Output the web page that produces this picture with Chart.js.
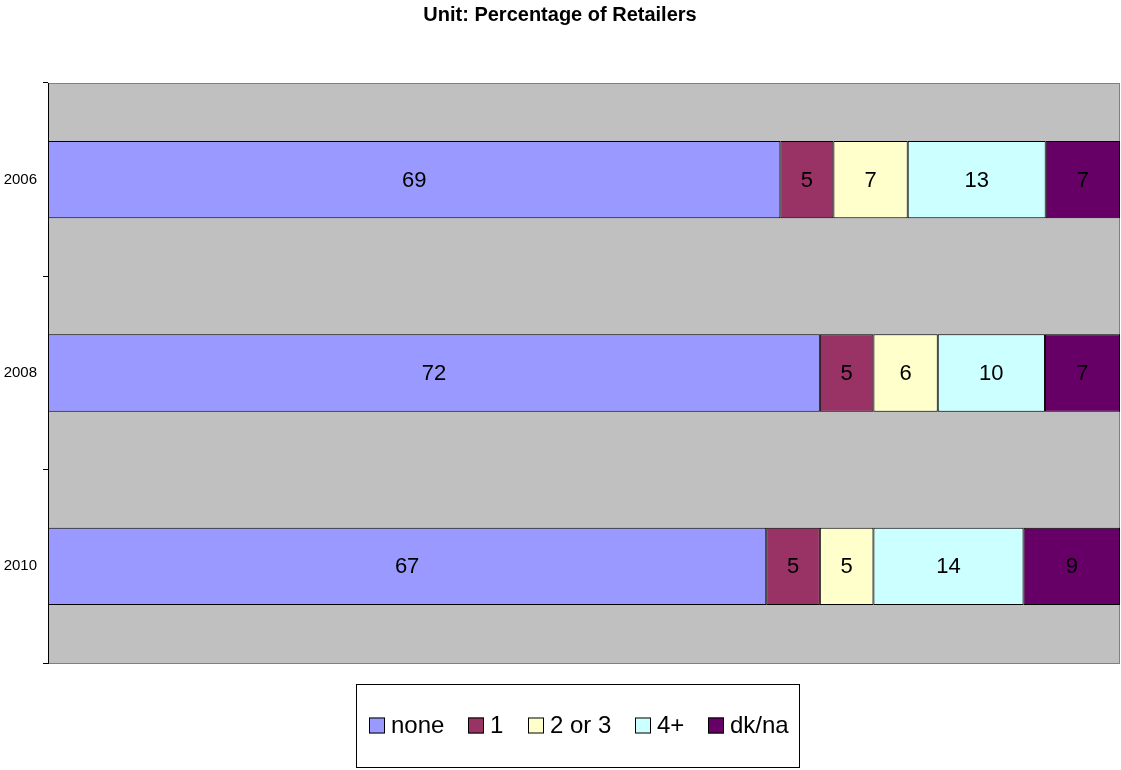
<!DOCTYPE html>
<html>
<head>
<meta charset="utf-8">
<title>Unit: Percentage of Retailers</title>
<script src="https://cdn.jsdelivr.net/npm/chart.js@4/dist/chart.umd.min.js"></script>
<style>
  html, body { margin: 0; padding: 0; background: #fff; }
  canvas { display: block; }
</style>
</head>
<body>
<canvas id="chart" width="1121" height="770"></canvas>
<script>
// Retailers chart — 100% stacked horizontal bars
const years = ['2006', '2008', '2010'];
const seriesNames = ['none', '1', '2 or 3', '4+', 'dk/na'];
const none = [69, 72, 67];
const one = [5, 5, 5];
const twoOrThree = [7, 6, 5];
const fourPlus = [13, 10, 14];
const dkNa = [7, 7, 9];

const COLORS = ['#9999ff', '#993366', '#ffffcc', '#ccffff', '#660066'];
const FONT = "'Liberation Sans', Arial, sans-serif";

const raw = [none, one, twoOrThree, fourPlus, dkNa];
const totals = years.map((_, i) => raw.reduce((s, arr) => s + arr[i], 0));

// each bar is scaled to 100% of its own total, labels keep the raw numbers
const datasets = raw.map((arr, k) => ({
  label: seriesNames[k],
  data: arr.map((v, i) => v / totals[i] * 100),
  rawValues: arr,
  backgroundColor: COLORS[k],
  borderColor: '#000',
  borderWidth: 1,
  borderSkipped: false,
  categoryPercentage: 1,
  barPercentage: 0.4
}));

const plotFrame = {
  id: 'plotFrame',
  beforeDraw(chart) {
    const { ctx, chartArea: a } = chart;
    ctx.save();
    ctx.fillStyle = '#c0c0c0';
    ctx.fillRect(a.left, a.top, a.right - a.left, a.bottom - a.top);
    ctx.strokeStyle = '#808080';
    ctx.lineWidth = 1;
    ctx.strokeRect(a.left + 0.5, a.top + 0.5, a.right - a.left - 1, a.bottom - a.top);
    ctx.restore();
  }
};

const barValues = {
  id: 'barValues',
  afterDatasetsDraw(chart) {
    const { ctx } = chart;
    ctx.save();
    ctx.font = `22px ${FONT}`;
    ctx.fillStyle = '#000';
    ctx.textAlign = 'center';
    ctx.textBaseline = 'middle';
    chart.data.datasets.forEach((ds, k) => {
      chart.getDatasetMeta(k).data.forEach((bar, i) => {
        ctx.fillText(String(ds.rawValues[i]), (bar.x + bar.base) / 2, bar.y + 1);
      });
    });
    ctx.restore();
  }
};

const boxedLegend = {
  id: 'boxedLegend',
  afterDraw(chart, args, opts) {
    const { ctx } = chart;
    ctx.save();
    ctx.font = `24px ${FONT}`;
    const items = chart.data.datasets.map(ds => ({ text: ds.label, color: ds.backgroundColor, w: ctx.measureText(ds.label).width }));
    const sw = 16, textGap = 6, itemGap = 24;
    const inner = items.reduce((s, it) => s + sw + textGap + it.w, 0) + itemGap * (items.length - 1);
    const left = Math.round(opts.centerX - inner / 2 - 13);
    const width = Math.round(inner + 23);
    ctx.strokeStyle = '#000';
    ctx.lineWidth = 1;
    ctx.strokeRect(left + 0.5, opts.top + 0.5, width, opts.height);

    let x = left + 13;
    const cy = opts.top + opts.height / 2;
    ctx.textBaseline = 'middle';
    ctx.textAlign = 'left';
    items.forEach(it => {
      const bx = Math.round(x);
      ctx.fillStyle = it.color;
      ctx.fillRect(bx, cy - 8, sw, sw);
      ctx.strokeStyle = '#000';
      ctx.strokeRect(bx + 0.5, cy - 7.5, sw - 1, sw - 1);
      ctx.fillStyle = '#000';
      ctx.fillText(it.text, bx + sw + textGap, cy + 1);
      x += sw + textGap + it.w + itemGap;
    });
    ctx.restore();
  }
};

new Chart(document.getElementById('chart'), {
  type: 'bar',
  data: { labels: years, datasets },
  plugins: [plotFrame, barValues, boxedLegend],
  options: {
    indexAxis: 'y',
    responsive: false,
    animation: false,
    devicePixelRatio: 1,
    layout: { padding: { top: 0, left: 0, right: 1, bottom: 107 } },
    plugins: {
      legend: { display: false },
      tooltip: { enabled: false },
      title: {
        display: true,
        text: 'Unit: Percentage of Retailers',
        color: '#000',
        font: { family: FONT, size: 20, weight: 'bold', lineHeight: 1.2 },
        padding: { top: 3, bottom: 56 }
      },
      boxedLegend: { centerX: 579, top: 684, height: 83 }
    },
    scales: {
      x: { stacked: true, min: 0, max: 100, display: false },
      y: {
        stacked: true,
        afterFit: s => { s.width = 48; },
        border: { display: true, color: '#000', width: 1 },
        grid: { offset: true, drawOnChartArea: false, drawTicks: true, tickLength: 5, color: '#000' },
        ticks: { color: '#000', padding: 6, font: { family: FONT, size: 15 } }
      }
    }
  }
});
</script>
</body>
</html>
